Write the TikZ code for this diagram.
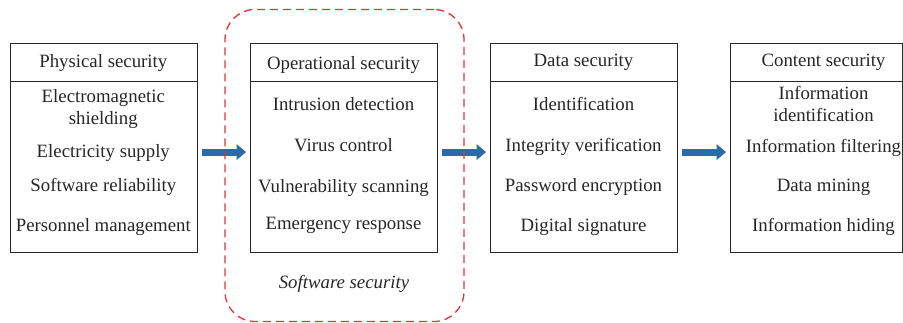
\documentclass[tikz,border=0pt]{standalone}
\usepackage{fontspec}
\setmainfont{Liberation Serif}
\usetikzlibrary{arrows.meta}
\definecolor{arrowblue}{HTML}{2C69B0}
\definecolor{dashred}{HTML}{E53238}
\definecolor{ink}{HTML}{262626}

\begin{document}
\begin{tikzpicture}[x=1pt,y=-1pt,
  box/.style={draw=ink, line width=1.3pt, minimum height=209.5pt, inner sep=0pt, anchor=north west},
  head/.style={draw=ink, line width=1.3pt, minimum height=38.3pt, inner sep=0pt, anchor=north},
  item/.style={font=\fontsize{18.8}{21}\selectfont, text=ink, anchor=base, inner sep=0pt},
  flow/.style={draw=arrowblue, line width=7pt, -{Triangle[length=9.5pt,width=15.5pt]}, shorten <=4pt, shorten >=4pt},
  group/.style={draw=dashred, line width=1.3pt, dash pattern=on 8pt off 5pt, rounded corners=30pt, minimum width=239pt, minimum height=312pt, inner sep=0pt}]

\useasboundingbox (0,0) rectangle (903,323);

% the four layers
\node[box, minimum width=187.5pt] (b1) at (9.5,42.7) {};
\node[box, minimum width=187pt] (b2) at (250,42.7) {};
\node[box, minimum width=187pt] (b3) at (490,42.7) {};
\node[box, minimum width=172pt] (b4) at (730,42.7) {};

\node[head, minimum width=187.5pt] (h1) at (b1.north) {};
\node[head, minimum width=187pt] (h2) at (b2.north) {};
\node[head, minimum width=187pt] (h3) at (b3.north) {};
\node[head, minimum width=172pt] (h4) at (b4.north) {};

% physical security
\node[item] (t1) at (103.3,67.5) {Physical security};
\node[item] (t1a) at (103.3,102.5) {Electromagnetic};
\node[item] (t1b) at (103.3,125) {shielding};
\node[item] (t1c) at (103.3,157.5) {Electricity supply};
\node[item] (t1d) at (103.3,191.5) {Software reliability};
\node[item] (t1e) at (103.3,232) {Personnel management};

% operational security
\node[item] (t2) at (343.5,70) {Operational security};
\node[item] (t2a) at (343.5,111) {Intrusion detection};
\node[item] (t2b) at (343.5,152) {Virus control};
\node[item] (t2c) at (343.5,192.5) {Vulnerability scanning};
\node[item] (t2d) at (343.5,230) {Emergency response};
\node[item, font=\fontsize{18.8}{21}\selectfont\itshape] (t2e) at (344,289) {Software security};

% data security
\node[item] (t3) at (583.5,66.7) {Data security};
\node[item] (t3a) at (583.5,111) {Identification};
\node[item] (t3b) at (583.5,152) {Integrity verification};
\node[item] (t3c) at (583.5,192) {Password encryption};
\node[item] (t3d) at (583.5,232) {Digital signature};

% content security
\node[item] (t4) at (823.5,66.7) {Content security};
\node[item] (t4a) at (823.5,99.3) {Information};
\node[item] (t4b) at (823.5,122) {identification};
\node[item] (t4c) at (823.5,152.7) {Information filtering};
\node[item] (t4d) at (823.5,192) {Data mining};
\node[item] (t4e) at (823.5,232) {Information hiding};

% flow between layers
\draw[flow] ([yshift=-4pt]b1.east) -- ([yshift=-4pt]b2.west);
\draw[flow] ([yshift=-4pt]b2.east) -- ([yshift=-4pt]b3.west);
\draw[flow] ([yshift=-4pt]b3.east) -- ([yshift=-4pt]b4.west);

% software security group
\node[group] (grp) at (344.5,165.5) {};
\end{tikzpicture}
\end{document}
